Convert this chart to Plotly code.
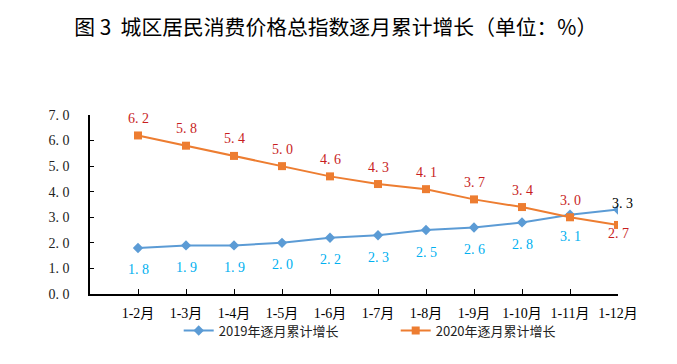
import plotly.graph_objects as go

months = ["1-2月", "1-3月", "1-4月", "1-5月", "1-6月", "1-7月", "1-8月", "1-9月", "1-10月", "1-11月", "1-12月"]
growth_2019 = [1.8, 1.9, 1.9, 2.0, 2.2, 2.3, 2.5, 2.6, 2.8, 3.1, 3.3]
growth_2020 = [6.2, 5.8, 5.4, 5.0, 4.6, 4.3, 4.1, 3.7, 3.4, 3.0, 2.7]
y_ticks = [0, 1, 2, 3, 4, 5, 6, 7]
y_tick_labels = ["0. 0", "1. 0", "2. 0", "3. 0", "4. 0", "5. 0", "6. 0", "7. 0"]

serif = "Liberation Serif, Noto Sans CJK SC, serif"
cjk = "Noto Sans CJK SC, sans-serif"

fig = go.Figure()
fig.add_trace(go.Scatter(
    x=months, y=growth_2019, mode="lines+markers", name="2019年逐月累计增长",
    line=dict(color="#5B9BD5", width=2),
    marker=dict(symbol="diamond", size=8, color="#5B9BD5"),
))
fig.add_trace(go.Scatter(
    x=months, y=growth_2020, mode="lines+markers", name="2020年逐月累计增长",
    line=dict(color="#ED7D31", width=2),
    marker=dict(symbol="square", size=8, color="#ED7D31"),
))

annotations = []
n = len(months)
for i, (m, v) in enumerate(zip(months, growth_2019)):
    last = i == n - 1
    annotations.append(dict(
        x=m, y=v, xref="x", yref="y", text=f"{v:.1f}".replace(".", ". "),
        showarrow=False, yshift=(6 if last else -22), xshift=(4 if last else 0),
        font=dict(family=serif, size=14, color=("#000000" if last else "#00B0F0")),
    ))
for i, (m, v) in enumerate(zip(months, growth_2020)):
    last = i == n - 1
    annotations.append(dict(
        x=m, y=v, xref="x", yref="y", text=f"{v:.1f}".replace(".", ". "),
        showarrow=False, yshift=(-9 if last else 17),
        font=dict(family=serif, size=14, color="#C81E1E"),
    ))
annotations.append(dict(
    x=-0.45, y=7.38, xref="x", yref="y", text="%", showarrow=False,
    font=dict(family=serif, size=11, color="#333333"),
))

fig.update_layout(
    width=677, height=364,
    paper_bgcolor="white", plot_bgcolor="white",
    margin=dict(l=90, r=59, t=115, b=70, autoexpand=False),
    title=dict(
        text="图 3  城区居民消费价格总指数逐月累计增长（单位：%）",
        x=0.496, xanchor="center", y=0.923, yanchor="middle",
        font=dict(family=cjk, size=20.8, color="#000000"),
    ),
    showlegend=True,
    legend=dict(
        orientation="h", x=0.168, xanchor="left", y=-0.12, yanchor="top",
        font=dict(family=cjk, size=13, color="#222222"),
        bgcolor="rgba(0,0,0,0)",
        itemwidth=30, tracegroupgap=0,
        entrywidth=172, entrywidthmode="pixels",
    ),
    xaxis=dict(
        type="category", range=[-1, n - 1],
        showline=True, linecolor="#000000", linewidth=1.5,
        ticks="inside", ticklen=5, tickcolor="#000000",
        showgrid=False, zeroline=False,
        tickfont=dict(family=serif, size=14, color="#000000"),
        ticklabelstandoff=5,
    ),
    yaxis=dict(
        range=[0, 7], tickvals=y_ticks, ticktext=y_tick_labels,
        showline=True, linecolor="#000000", linewidth=1.5,
        ticks="inside", ticklen=4, tickcolor="#000000",
        showgrid=False, zeroline=False,
        tickfont=dict(family=serif, size=14, color="#222222"),
        ticklabelstandoff=16,
    ),
    annotations=annotations,
)

fig.write_html("out.html", config={"displayModeBar": False},
               post_script="document.body.style.margin='0';")
